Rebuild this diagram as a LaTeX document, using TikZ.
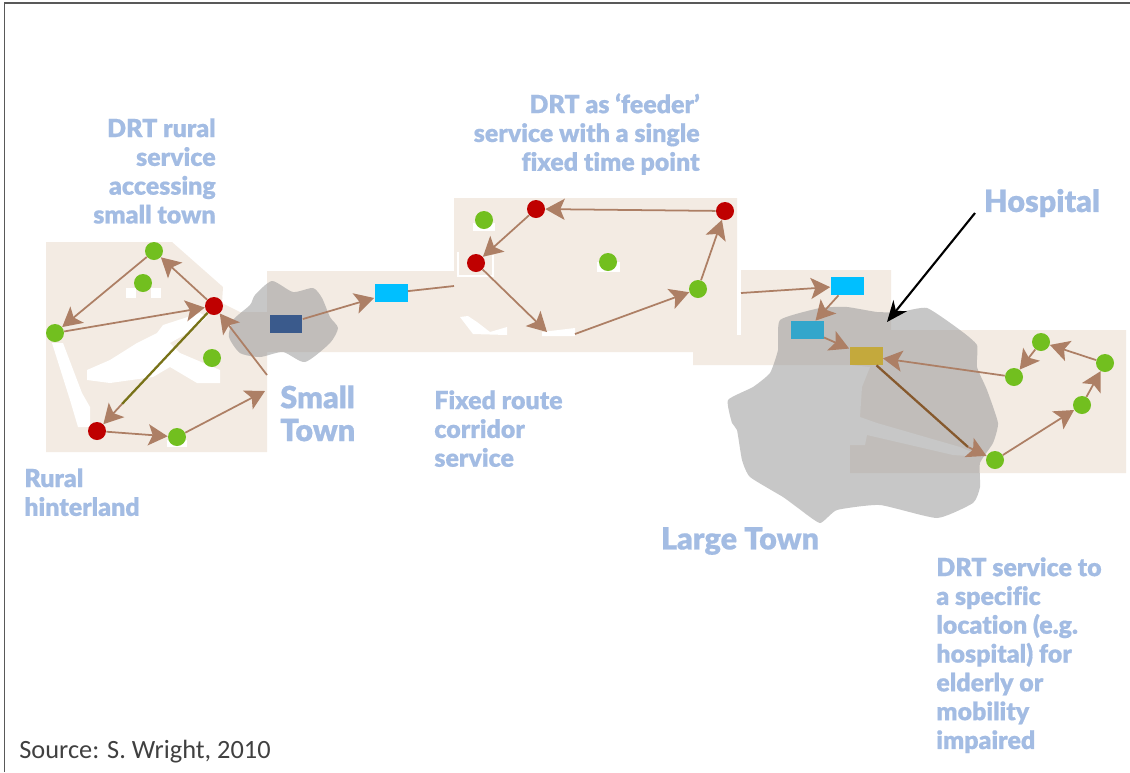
\documentclass[tikz,border=0pt]{standalone}
\usepackage{fontspec}
\setmainfont{Lato}[BoldFont={Lato Black},BoldFeatures={FakeBold=0.6},Ligatures=NoCommon]
\newfontfamily\srcfont{Carlito}
\usetikzlibrary{arrows.meta}
\definecolor{tanfill}{HTML}{F3EBE3}
\definecolor{linkcol}{HTML}{AD7F65}
\definecolor{labelcol}{HTML}{A3BCE3}
\definecolor{dotgreen}{HTML}{72BF1F}
\definecolor{dotred}{HTML}{BF0000}
\definecolor{stopblue}{HTML}{3A5A8C}
\definecolor{stopcyan}{HTML}{00BFFF}
\definecolor{stopteal}{HTML}{33A6CB}
\definecolor{stopgold}{HTML}{C4A93C}
\tikzset{
	link/.style={draw=linkcol,line width=1pt,-{Stealth[length=11pt,width=12pt,inset=2.5pt]}},
	plainlink/.style={draw=linkcol,line width=1pt},
	greendot/.style={circle,fill=dotgreen,inner sep=0pt,minimum size=0.36cm},
	reddot/.style={circle,fill=dotred,inner sep=0pt,minimum size=0.36cm},
	stopbox/.style={inner sep=0pt,minimum width=0.66cm,minimum height=0.36cm},
	lbl/.style={text=labelcol,font=\bfseries\fontsize{14.2}{16.4}\selectfont,inner sep=0pt},
	biglbl/.style={text=labelcol,font=\bfseries\fontsize{17.4}{18.7}\selectfont,inner sep=0pt},
	town/.style={fill=black!40,fill opacity=0.55}
}
\begin{document}
\begin{tikzpicture}[x=0.02cm,y=-0.02cm]
	\useasboundingbox (0,0) rectangle (1130,772);
	% tan areas
	\fill[tanfill] (46,242)--(172,242)--(223,287)--(222,303)--(240,312)--(267,312)--(267,452)--(46,452)--cycle;
	\fill[tanfill] (267,271)--(454,271)--(454,198)--(737,198)--(737,270)--(891,270)--(891,330)--(1126,330)--(1126,473)--(850,473)--(850,365)--(693,365)--(693,352)--(267,352)--cycle;
	% white patches
	\fill[white] (52,343)--(63,343)--(82,393)--(90,407)--(90,427)--(78,427)--(70,400)--cycle;
	\fill[white] (87,370)--(110,360)--(137,343)--(157,333)--(163,325)--(200,313)--(207,317)--(193,330)--(170,343)--(180,353)--(220,370)--(220,383)--(197,383)--(170,367)--(153,377)--(110,383)--(87,380)--cycle;
	\fill[white] (737,270) rectangle (741,335);
	\fill[white] (460,317)--(473,334)--(507,335)--(507,327)--(490,332)--(477,322)--(468,316)--cycle;
	\fill[white] (542,332)--(575,328)--(575,336)--(542,336)--cycle;
	\fill[white] (850,365)--(870,367)--(862,387)--(860,417)--(877,423)--(960,447)--(983,457)--(953,455)--(867,435)--(865,445)--(850,445)--cycle;
	\draw[white,line width=1.5pt] (458,252)--(458,276)--(493,276)--(493,255);
	\fill[white] (126,288) rectangle (136,298);
	\fill[white] (151,288) rectangle (161,298);
	\fill[white] (473,223) rectangle (495,231);
	\fill[white] (597,262) rectangle (620,272);
	\fill[white] (167,440) rectangle (187,447);
	% towns
	\fill[town] plot[smooth cycle,tension=0.4] coordinates {(272,281) (293,292) (313,288) (322,298) (330,317) (338,328) (330,343) (305,362) (283,352) (260,357) (240,353) (229,337) (233,320) (250,305) (255,295)};
	\fill[town] plot[smooth cycle,tension=0.3] coordinates {(780,320) (820,308) (847,307) (877,312) (900,312) (927,308) (960,330) (977,345) (977,367) (987,390) (998,423) (993,443) (980,463) (980,487) (973,503) (937,518) (880,505) (837,510) (820,523) (798,508) (783,497) (750,477) (742,460) (737,430) (732,423) (728,400) (753,387) (770,373) (778,350)};
	% frame
	\draw[black!65,line width=1pt] (4.5,772)--(4.5,3)--(1130,3);
	% stops
	\node[greendot] (ruraltop) at (154,251) {};
	\node[greendot] (ruralmid) at (143,283) {};
	\node[greendot] (ruralwest) at (55,333) {};
	\node[greendot] (ruraleast) at (212,358) {};
	\node[greendot] (ruralsouth) at (177,437) {};
	\node[reddot] (ruralhub) at (214,306) {};
	\node[reddot] (ruralfar) at (97,431) {};
	\node[reddot] (feedtop) at (536,209) {};
	\node[reddot] (feedleft) at (476,263) {};
	\node[reddot] (feedright) at (725,211) {};
	\node[greendot] (feednw) at (484,220) {};
	\node[greendot] (feedmid) at (608,262) {};
	\node[greendot] (feedse) at (698,289) {};
	\node[greendot] (hosptop) at (1041,342) {};
	\node[greendot] (hospleft) at (1014,377) {};
	\node[greendot] (hospright) at (1105,363) {};
	\node[greendot] (hosplow) at (1082,405) {};
	\node[greendot] (hospsouth) at (995,460) {};
	\node[stopbox,fill=stopblue] (smallstop) at (286,324) {};
	\node[stopbox,fill=stopcyan] (corrstop) at (391,293) {};
	\node[stopbox,fill=stopcyan] (largestop) at (847,286) {};
	\node[stopbox,fill=stopteal] (tealstop) at (807,330) {};
	\node[stopbox,fill=stopgold] (hospstop) at (866,356) {};
	% free ends
	\coordinate (oliveend) at (122,404);
	\coordinate (ruralout) at (265,391);
	\coordinate (ruralin) at (267,375);
	\coordinate (corrend) at (454,286);
	\coordinate (dipin) at (547,332);
	\coordinate (dipout) at (575,334);
	\coordinate (corrback) at (741,293);
	\coordinate (goldend) at (968,447);
	\coordinate (hosptail) at (975,213);
	\coordinate (hosptip) at (887,322);
	% links
	\draw[link] (ruraltop) -- (ruralwest);
	\draw[link] (ruralwest) -- (ruralhub);
	\draw[link] (ruralhub) -- (ruraltop);
	\draw[draw=olive!80!black,line width=1.3pt] (ruralhub) -- (oliveend);
	\draw[link] (oliveend) -- (ruralfar);
	\draw[link] (ruralfar) -- (ruralsouth);
	\draw[link] (ruralsouth) -- (ruralout);
	\draw[link] (ruralin) -- (ruralhub);
	\draw[link] (smallstop) -- (corrstop);
	\draw[plainlink] (corrstop) -- (corrend);
	\draw[link] (feedright) -- (feedtop);
	\draw[link] (feedtop) -- (feedleft);
	\draw[link] (feedleft) -- (dipin);
	\draw[link] (dipout) -- (feedse);
	\draw[link] (feedse) -- (feedright);
	\draw[link] (corrback) -- (largestop);
	\draw[link] (largestop) -- (tealstop);
	\draw[link] (tealstop) -- (hospstop);
	\draw[link] (hospleft) -- (hospstop);
	\draw[draw=brown!70!black,line width=1.3pt] (hospstop) -- (goldend);
	\draw[link] (goldend) -- (hospsouth);
	\draw[link] (hospsouth) -- (hosplow);
	\draw[link] (hosplow) -- (hospright);
	\draw[link] (hospright) -- (hosptop);
	\draw[link] (hosptop) -- (hospleft);
	\draw[black,line width=1.2pt,-{Stealth[length=12pt,width=10pt]}] (hosptail) -- (hosptip);
	% labels
	\node[lbl,align=right,anchor=north east] (rurallbl) at (216,118) {DRT rural\\service\\accessing\\small town};
	\node[lbl,align=right,anchor=north east] (feedlbl) at (700,93) {DRT as ‘feeder’\\service with a single\\fixed time point};
	\node[lbl,align=left,anchor=north west] (fixedlbl) at (434,390) {Fixed route\\corridor\\service};
	\node[lbl,align=left,anchor=north west] (hinterlbl) at (24,468) {Rural\\hinterland};
	\node[lbl,align=left,anchor=north west] (hosplbl) at (936,557) {DRT service to\\a specific\\location (e.g.\\hospital) for\\elderly or\\mobility\\impaired};
	\node[biglbl,align=left,anchor=north west] (smalllbl) at (280,385) {Small\\Town};
	\node[biglbl] (largelbl) at (740,541) {Large Town};
	\node[biglbl] (hospname) at (1042,203) {Hospital};
	\node[inner sep=0pt,anchor=west,text=black!75,font=\srcfont\fontsize{15}{18}\selectfont] (srclbl) at (19,752) {Source: S. Wright, 2010};
\end{tikzpicture}
\end{document}
